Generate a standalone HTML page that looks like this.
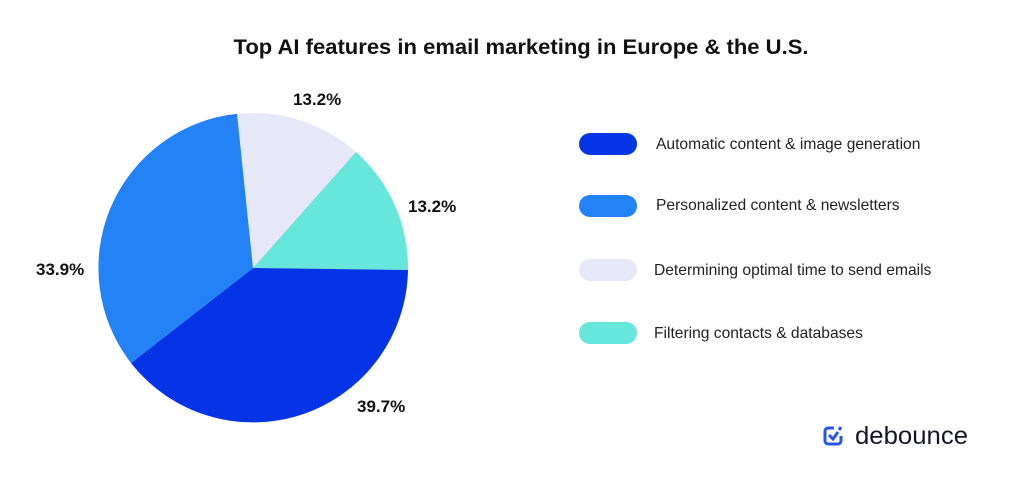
<!DOCTYPE html>
<html><head><style>
body{margin:0;background:#fff;width:1024px;height:479px;overflow:hidden;font-family:"Liberation Sans",sans-serif;}
svg{display:block}
</style></head><body>
<svg width="1024" height="479" viewBox="0 0 1024 479">
<text x="521" y="54" text-anchor="middle" font-size="21" font-weight="bold" fill="#111" textLength="575" lengthAdjust="spacingAndGlyphs">Top AI features in email marketing in Europe &amp; the U.S.</text>
<path d="M253,268 L237,113.8 A155,155 0 0 1 356,152 Z" fill="#e6e8f8"/>
<path d="M253,268 L356,152 A155,155 0 0 1 408,270 Z" fill="#67e6dc"/>
<path d="M253,268 L408,270 A155,155 0 0 1 131,363 Z" fill="#0434e6"/>
<path d="M253,268 L131,363 A155,155 0 0 1 237,113.8 Z" fill="#2282f6"/>
<g font-size="17" font-weight="bold" fill="#111">
<text x="293" y="105">13.2%</text>
<text x="408" y="212">13.2%</text>
<text x="36" y="275">33.9%</text>
<text x="357" y="412">39.7%</text>
</g>
<rect x="579" y="133" width="58" height="22" rx="11" fill="#0434e6"/>
<rect x="579" y="195" width="58" height="22" rx="11" fill="#2282f6"/>
<rect x="579" y="259" width="58" height="22" rx="11" fill="#e6e8f8"/>
<rect x="579" y="322" width="58" height="22" rx="11" fill="#67e6dc"/>
<g font-size="15.6" fill="#222">
<text x="656" y="149">Automatic content &amp; image generation</text>
<text x="656" y="210">Personalized content &amp; newsletters</text>
<text x="654" y="275">Determining optimal time to send emails</text>
<text x="654" y="338">Filtering contacts &amp; databases</text>
</g>
<g>
<path d="M834,428 h-6 a3,3 0 0 0 -3,3 v10 a3,3 0 0 0 3,3 h10 a3,3 0 0 0 3,-3 v-5" fill="none" stroke="#2455f0" stroke-width="3"/>
<path d="M829,435 l4,4 l5,-7" fill="none" stroke="#2455f0" stroke-width="3"/>
<path d="M841,427 l-2,3" stroke="#2455f0" stroke-width="3"/>
<text x="855" y="444" font-size="25" fill="#15152a" textLength="113" lengthAdjust="spacingAndGlyphs">debounce</text>
</g>
</svg>
</body></html>
